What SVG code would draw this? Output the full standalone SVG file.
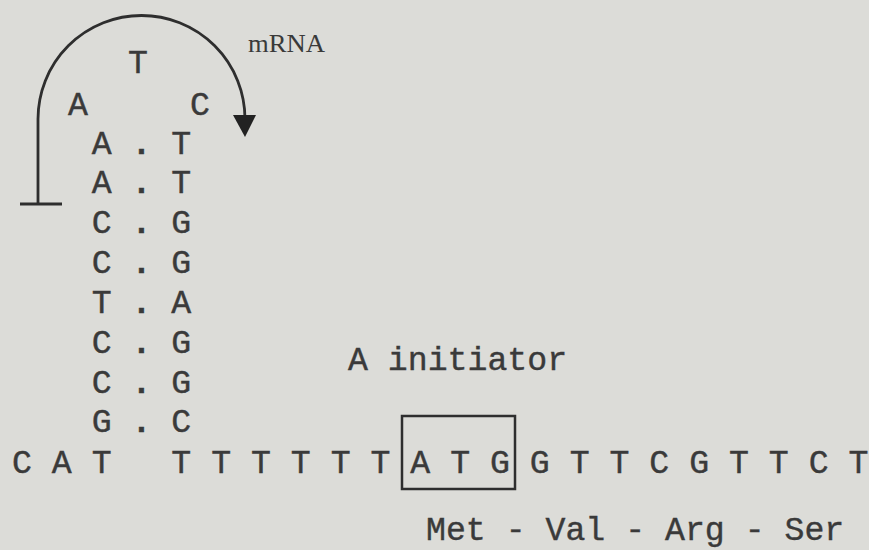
<svg xmlns="http://www.w3.org/2000/svg" width="869" height="550" viewBox="0 0 869 550">
  <defs>
    <style>
      .tw { font-family: "Liberation Mono", "Courier New", monospace; font-size: 33.2px; fill: #3a3a3a; stroke: #3a3a3a; stroke-width: 0.4; white-space: pre; }
      .dot { font-weight: bold; }
      .serif { font-family: "Liberation Serif", "Times New Roman", serif; font-size: 25px; fill: #3a3a3a; }
      .line { fill: none; stroke: #2e2e2e; stroke-width: 2.8; stroke-linecap: butt; }
    </style>
  </defs>
  <rect x="0" y="0" width="869" height="550" fill="#dcdcd8"/>

  <g id="connectors">
    <path class="line" d="M38,204 L38,119 A103.5,103.5 0 0 1 245,119"/>
    <path d="M233,115 L256,115 L245,137 Z" fill="#222"/>
    <line class="line" x1="20" y1="204" x2="62" y2="204"/>
  </g>

  <g id="label-mrna">
    <text class="serif" x="248" y="52" textLength="77" lengthAdjust="spacingAndGlyphs">mRNA</text>
  </g>

  <g id="loop">
    <text class="tw" x="128" y="73" xml:space="preserve">T</text>
    <text class="tw" x="68" y="115" xml:space="preserve">A</text>
    <text class="tw" x="190" y="115" xml:space="preserve">C</text>
  </g>

  <g id="stem">
    <text class="tw" x="91.7" y="154" xml:space="preserve">A <tspan class="dot">.</tspan> T</text>
    <text class="tw" x="91.7" y="193" xml:space="preserve">A <tspan class="dot">.</tspan> T</text>
    <text class="tw" x="91.7" y="233" xml:space="preserve">C <tspan class="dot">.</tspan> G</text>
    <text class="tw" x="91.7" y="273" xml:space="preserve">C <tspan class="dot">.</tspan> G</text>
    <text class="tw" x="91.7" y="313" xml:space="preserve">T <tspan class="dot">.</tspan> A</text>
    <text class="tw" x="91.7" y="353" xml:space="preserve">C <tspan class="dot">.</tspan> G</text>
    <text class="tw" x="91.7" y="393" xml:space="preserve">C <tspan class="dot">.</tspan> G</text>
    <text class="tw" x="91.7" y="432" xml:space="preserve">G <tspan class="dot">.</tspan> C</text>
  </g>

  <g id="initiator-label">
    <text class="tw" x="348" y="370" xml:space="preserve">A initiator</text>
  </g>

  <g id="sequence">
    <text class="tw" x="12" y="473" xml:space="preserve">C A T   T T T T T T A T G G T T C G T T C T</text>
  </g>

  <g id="start-codon-box">
    <rect x="402" y="416" width="113" height="73" fill="none" stroke="#2e2e2e" stroke-width="2.5"/>
  </g>

  <g id="peptide">
    <text class="tw" x="426" y="540" xml:space="preserve">Met - Val - Arg - Ser</text>
  </g>
</svg>
